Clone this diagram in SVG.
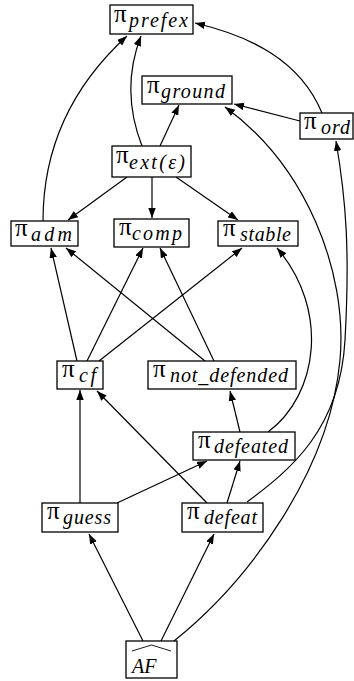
<svg xmlns="http://www.w3.org/2000/svg" width="354" height="681" viewBox="0 0 354 681">
<defs>
<marker id="ah" markerWidth="11" markerHeight="8" refX="10" refY="3.75" orient="auto" markerUnits="userSpaceOnUse">
<path d="M0,0 L10,3.75 L0,7.5 z" fill="#000"/>
</marker>
<style>
.box{fill:#fff;stroke:#000;stroke-width:1.3}
.pi{font-family:"Liberation Serif","DejaVu Serif",serif;font-size:25px;fill:#000}
.sub{font-family:"Liberation Serif","DejaVu Serif",serif;font-style:italic;font-size:20px;fill:#000}
.e{fill:none;stroke:#000;stroke-width:1.2;marker-end:url(#ah)}
</style>
</defs>
<rect width="354" height="681" fill="#fff"/>
<g id="connectors">
<path class="e" d="M43,221 C 43,150 70,88 127,36"/>
<path class="e" d="M142,146 C 128,110 127,72 141,36"/>
<path class="e" d="M160,146 L179,105"/>
<path class="e" d="M322,113 C 300,60 250,36 195,23"/>
<path class="e" d="M300,121 L234,104"/>
<path class="e" d="M174,641 C 250,580 330,470 340,360 C 348,270 305,165 225,107"/>
<path class="e" d="M247,502 C 290,470 340,430 345,340 C 350,250 346,200 336,141"/>
<path class="e" d="M127,177 L68,220"/>
<path class="e" d="M152,177 L152,218"/>
<path class="e" d="M176,177 L238,220"/>
<path class="e" d="M77,361 L51,248"/>
<path class="e" d="M87,361 L143,248"/>
<path class="e" d="M99,361 L242,248"/>
<path class="e" d="M205,361 L66,248"/>
<path class="e" d="M214,361 L160,248"/>
<path class="e" d="M268,432 C 318,395 330,310 277,248"/>
<path class="e" d="M240,432 L230,391"/>
<path class="e" d="M80,503 L80,390"/>
<path class="e" d="M117,503 L207,461"/>
<path class="e" d="M207,503 L97,391"/>
<path class="e" d="M227,503 L240,461"/>
<path class="e" d="M143,641 L89,534"/>
<path class="e" d="M161,641 L214,534"/>
</g>
<g id="prefex"><rect class="box" x="110" y="5" width="83" height="29"/><text x="114" y="22"><tspan class="pi">π</tspan><tspan class="sub" x="129" y="27" textLength="59" lengthAdjust="spacing">prefex</tspan></text></g>
<g id="ground"><rect class="box" x="142" y="76" width="90" height="28"/><text x="147" y="93"><tspan class="pi">π</tspan><tspan class="sub" x="161" y="98" textLength="64" lengthAdjust="spacing">ground</tspan></text></g>
<g id="ord"><rect class="box" x="300" y="113" width="53" height="26"/><text x="304" y="129"><tspan class="pi">π</tspan><tspan class="sub" x="321" y="134" textLength="29" lengthAdjust="spacing">ord</tspan></text></g>
<g id="ext"><rect class="box" x="112" y="146" width="79" height="31"/><text x="116" y="163"><tspan class="pi">π</tspan><tspan class="sub" x="129" y="169" textLength="56" lengthAdjust="spacing">ext(ε)</tspan></text></g>
<g id="adm"><rect class="box" x="11" y="221" width="67" height="25"/><text x="15" y="236"><tspan class="pi">π</tspan><tspan class="sub" x="31" y="241" textLength="41" lengthAdjust="spacing">adm</tspan></text></g>
<g id="comp"><rect class="box" x="114" y="219" width="75" height="28"/><text x="119" y="235"><tspan class="pi">π</tspan><tspan class="sub" x="132" y="240" textLength="50" lengthAdjust="spacing">comp</tspan></text></g>
<g id="stable"><rect class="box" x="218" y="221" width="80" height="25"/><text x="223" y="236"><tspan class="pi">π</tspan><tspan class="sub" x="240" y="241" textLength="51" lengthAdjust="spacing">stable</tspan></text></g>
<g id="cf"><rect class="box" x="57" y="361" width="46" height="28"/><text x="62" y="377"><tspan class="pi">π</tspan><tspan class="sub" x="79" y="382" textLength="17" lengthAdjust="spacing">cf</tspan></text></g>
<g id="not_defended"><rect class="box" x="148" y="361" width="148" height="28"/><text x="153" y="377"><tspan class="pi">π</tspan><tspan class="sub" x="170" y="382" textLength="118" lengthAdjust="spacing">not_defended</tspan></text></g>
<g id="defeated"><rect class="box" x="193" y="432" width="102" height="28"/><text x="198" y="448"><tspan class="pi">π</tspan><tspan class="sub" x="214" y="453" textLength="74" lengthAdjust="spacing">defeated</tspan></text></g>
<g id="guess"><rect class="box" x="42" y="503" width="76" height="29"/><text x="47" y="519"><tspan class="pi">π</tspan><tspan class="sub" x="63" y="524" textLength="48" lengthAdjust="spacing">guess</tspan></text></g>
<g id="defeat"><rect class="box" x="182" y="503" width="81" height="29"/><text x="187" y="519"><tspan class="pi">π</tspan><tspan class="sub" x="204" y="524" textLength="53" lengthAdjust="spacing">defeat</tspan></text></g>
<g id="AF"><rect class="box" x="126" y="641" width="51" height="37"/><path d="M132,651 L151.5,645 L171,651" fill="none" stroke="#000" stroke-width="0.9"/><text class="sub" x="132" y="673" font-size="25">AF</text></g>
</svg>
